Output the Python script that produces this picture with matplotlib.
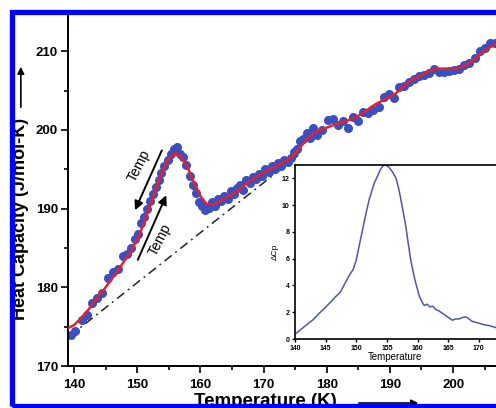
import matplotlib.pyplot as plt
from matplotlib.patches import Rectangle, FancyArrowPatch

plt.rcParams['font.family'] = ['Liberation Sans', 'DejaVu Sans']

# fitted curve (red)
fit_t = [139.0, 140, 141, 142, 143, 144, 145, 146, 147, 148, 149, 150, 151, 152,
         153, 154, 155, 156, 157, 158, 159, 160, 161, 162, 163, 164, 165, 166,
         167, 168, 169, 170, 171, 172, 173, 174, 175, 176, 177, 178, 179, 180,
         181, 182, 183, 184, 185, 186, 187, 188, 189, 190, 191, 192, 193, 194,
         195, 196, 197, 198, 199, 200, 201, 202, 203, 204, 205, 206, 207, 208]
fit_cp = [174.8, 175.2, 176.0, 176.9, 177.9, 179.0, 180.0, 181.1, 182.2, 183.4,
          184.6, 186.1, 188.0, 190.3, 192.7, 194.8, 196.4, 197.1, 196.6, 195.2,
          193.3, 191.6, 190.6, 190.5, 190.9, 191.4, 191.8, 192.3, 193.0, 193.6,
          194.1, 194.6, 195.0, 195.4, 195.8, 196.3, 197.0, 198.0, 198.9, 199.6,
          200.0, 200.3, 200.6, 200.9, 201.1, 201.4, 201.8, 202.3, 202.9, 203.4,
          203.8, 204.2, 204.7, 205.4, 206.1, 206.6, 207.0, 207.4, 207.7, 207.8,
          207.8, 207.8, 207.9, 208.2, 208.7, 209.4, 210.1, 210.6, 211.0, 211.2]

# measured points (blue)
meas_t = [139.5, 140.2, 141.2, 142.0, 142.8, 143.6, 144.5, 145.3, 146.1, 146.9,
          147.7, 148.4, 149.0, 149.6, 150.1, 150.6, 151.1, 151.6, 152.0, 152.5,
          152.9, 153.4, 153.8, 154.3, 154.8, 155.3, 155.8, 156.3, 156.8, 157.3,
          157.8, 158.3, 158.8, 159.3, 159.8, 160.3, 160.8, 161.3, 161.8, 162.3,
          162.8, 163.3, 163.8, 164.3, 164.8, 165.3, 165.8, 166.3, 166.8, 167.3,
          167.8, 168.3, 168.8, 169.3, 169.8, 170.3, 170.8, 171.3, 171.8, 172.3,
          172.8, 173.3, 173.8, 174.3, 174.8, 175.3, 175.8, 176.3, 176.8, 177.3,
          177.8, 178.5, 179.3, 180.2, 181.0, 181.8, 182.6, 183.4, 184.2, 185.0,
          185.8, 186.6, 187.4, 188.2, 189.0, 189.8, 190.6, 191.4, 192.2, 193.0,
          193.8, 194.6, 195.4, 196.2, 197.0, 197.8, 198.6, 199.4, 200.2, 201.0,
          201.8, 202.6, 203.4, 204.2, 205.0, 205.8, 206.6, 207.4]
meas_cp = [174.0, 174.5, 175.8, 176.5, 178.0, 178.6, 179.3, 181.2, 182.0, 182.3,
           184.0, 184.2, 185.0, 186.2, 186.8, 188.2, 189.0, 190.0, 191.0, 191.8,
           192.8, 193.6, 194.5, 195.4, 196.2, 196.9, 197.6, 197.8, 197.0, 196.6,
           195.6, 194.2, 193.0, 192.0, 190.9, 190.3, 189.8, 190.1, 190.8, 190.4,
           191.2, 191.0, 191.6, 191.2, 192.2, 191.8, 192.6, 193.0, 192.4, 193.6,
           193.2, 194.0, 193.8, 194.4, 194.2, 195.0, 194.6, 195.4, 195.1, 195.8,
           195.4, 196.2, 195.9, 196.4, 197.2, 197.6, 198.6, 198.8, 199.6, 199.0,
           200.2, 199.4, 200.0, 201.3, 201.4, 200.6, 201.1, 200.2, 201.7, 201.2,
           202.3, 202.1, 202.6, 202.9, 204.2, 204.6, 204.0, 205.4, 205.6, 206.1,
           206.5, 206.8, 207.0, 207.3, 207.8, 207.4, 207.4, 207.5, 207.6, 207.7,
           208.3, 208.5, 209.2, 210.0, 210.4, 211.0, 211.0, 210.8]

# dash-dot baseline
base_t = [139.3, 176.0]
base_cp = [173.8, 197.1]

# inset: excess heat capacity
dcp_t = [140.0, 140.8, 141.6, 142.4, 142.9, 143.8, 144.7, 145.6, 146.5, 147.4,
         148.3, 148.9, 149.5, 150.0, 150.5, 151.0, 151.5, 152.1, 152.5, 152.9,
         153.5, 154.0, 154.4, 154.8, 155.3, 155.9, 156.5, 157.0, 157.5, 158.1,
         158.5, 158.9, 159.3, 159.7, 160.3, 160.7, 161.1, 161.6, 162.0, 162.5,
         163.0, 163.5, 164.1, 164.6, 165.1, 165.7, 166.2, 166.8, 167.3, 167.9,
         168.4, 169.0, 169.5, 170.1, 170.6, 171.2, 171.7, 172.3, 172.8, 173.4]
dcp_v = [0.37, 0.65, 0.95, 1.25, 1.42, 1.85, 2.25, 2.66, 3.1, 3.5,
         4.28, 4.78, 5.2, 5.9, 7.0, 8.1, 9.2, 10.4, 11.0, 11.6,
         12.2, 12.7, 12.95, 13.0, 12.85, 12.5, 12.0, 11.1, 9.9, 8.4,
         7.1, 5.9, 5.0, 4.2, 3.2, 2.8, 2.5, 2.6, 2.4, 2.45,
         2.2, 2.1, 1.9, 1.75, 1.6, 1.4, 1.5, 1.5, 1.6, 1.66,
         1.5, 1.3, 1.25, 1.17, 1.1, 1.04, 1.0, 0.92, 0.85, 0.7]

fig = plt.figure(figsize=(4.96, 4.08), dpi=100)
ax = fig.add_axes([0.1365, 0.1029, 0.968, 0.8601])
ax.plot(meas_t, meas_cp, 'o', color='#3a4fc0', ms=5.5, mec='#3a4fc0', zorder=2)
ax.plot(fit_t, fit_cp, '-', color='#e8202a', lw=1.8, zorder=3)
ax.plot(base_t, base_cp, color='#222222', lw=1.1, dashes=(6, 3, 1.2, 3), zorder=1)

ax.set_xlim(139, 215)
ax.set_ylim(170, 214.6)
# only the ticks that fall inside the cropped picture get labels
ax.set_xticks(range(140, 205, 10))
ax.set_xticks(range(145, 210, 10), minor=True)
ax.set_yticks(range(170, 215, 10))
ax.set_yticks(range(175, 215, 10), minor=True)
for lab in ax.get_xticklabels() + ax.get_yticklabels():
    lab.set_fontweight('bold')
    lab.set_fontsize(9.5)
ax.tick_params(which='major', direction='out', length=5, width=1.2, pad=2)
ax.tick_params(axis='x', which='major', pad=4)
ax.tick_params(which='minor', direction='out', length=3, width=1.2)
ax.spines['top'].set_visible(False)
ax.spines['right'].set_visible(False)
for s in ('left', 'bottom'):
    ax.spines[s].set_linewidth(1.4)

# direction arrows with "Temp"
arrow = dict(arrowstyle='-|>', lw=1.4, color='black', mutation_scale=13,
             shrinkA=0, shrinkB=0)
ax.annotate('', xy=(149.65, 189.8), xytext=(153.9, 197.4), arrowprops=arrow)
ax.annotate('', xy=(154.6, 191.7), xytext=(150.1, 183.5), arrowprops=arrow)
ax.text(150.3, 195.4, 'Temp', rotation=63, fontsize=10, ha='center', va='center')
ax.text(153.6, 186.0, 'Temp', rotation=63, fontsize=10, ha='center', va='center')

# axis titles with arrows
fig.text(0.042, 0.464, 'Heat Capacity (J/mol-K)', rotation=90, fontsize=13,
         fontweight='bold', ha='center', va='center')
fig.add_artist(FancyArrowPatch(
    (0.042, (408 - 110) / 408), (0.042, (408 - 64) / 408),
    transform=fig.transFigure, arrowstyle='-|>', mutation_scale=10, lw=1.2,
    color='black'))
fig.text(194 / 496, 0.004, 'Temperature (K)', fontsize=13.5, fontweight='bold',
         ha='left', va='baseline')
fig.add_artist(FancyArrowPatch(
    (356 / 496, 5 / 408), (421 / 496, 5 / 408),
    transform=fig.transFigure, arrowstyle='-|>', mutation_scale=10, lw=1.2,
    color='black'))

# inset
ins = fig.add_axes([295 / 496, (408 - 339) / 408, 245 / 496, 174 / 408], zorder=5)
ins.plot(dcp_t, dcp_v, color='#5055b0', lw=1.1)
ins.set_xlim(140, 180)
ins.set_ylim(0, 13)
ins.set_xticks(range(140, 171, 5))
ins.set_xticks([175], minor=True)
ins.set_yticks(range(0, 13, 2))
for lab in ins.get_xticklabels() + ins.get_yticklabels():
    lab.set_fontsize(5)
    lab.set_fontweight('bold')
ins.tick_params(which='both', direction='out', length=2.5, width=1, pad=1.5)
ins.set_xlabel('Temperature', fontsize=7, labelpad=1)
ins.xaxis.set_label_coords(0.41, -0.075)
ins.set_ylabel('ΔCp', fontsize=6, labelpad=2)
for s in ins.spines.values():
    s.set_linewidth(1.2)

# blue frame around the figure
fig.add_artist(Rectangle((11.5 / 496, 2.0 / 408), (700 - 11.5) / 496,
                         (408 - 11.5 - 2.0) / 408, transform=fig.transFigure,
                         fill=False, edgecolor='#0000ff', lw=3.8, zorder=20,
                         clip_on=False))

fig.savefig('out.png', dpi=100)
